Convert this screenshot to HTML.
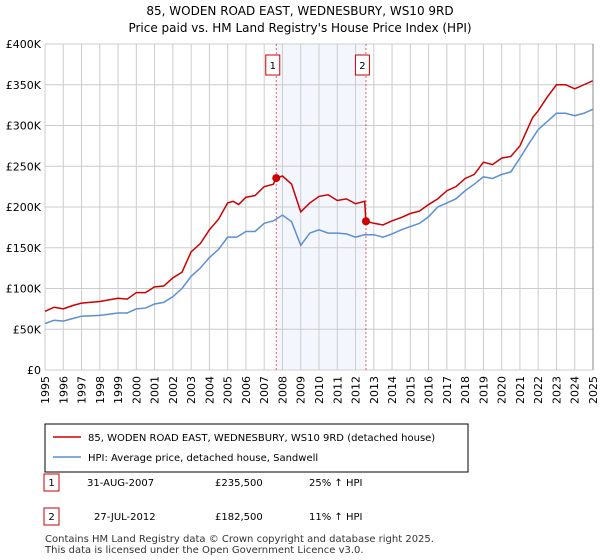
<!DOCTYPE html>
<html><head><meta charset="utf-8"><style>
body{margin:0;width:600px;height:560px;background:#fff;font-family:"Liberation Sans","DejaVu Sans",sans-serif;overflow:hidden}
svg{position:absolute;left:0;top:0}
text{font-family:"DejaVu Sans","Liberation Sans",sans-serif}
</style></head><body>
<svg width="600" height="560">
<text x="300" y="15" font-size="12" text-anchor="middle">85, WODEN ROAD EAST, WEDNESBURY, WS10 9RD</text>
<text x="300" y="32" font-size="12" text-anchor="middle">Price paid vs. HM Land Registry's House Price Index (HPI)</text>
<g id="plot"></g>
<rect x="45" y="424" width="423" height="48" fill="#fff" stroke="#000"/>
<line x1="53" y1="437" x2="81" y2="437" stroke="#cc0000" stroke-width="1.5"/>
<text x="88" y="441" font-size="10">85, WODEN ROAD EAST, WEDNESBURY, WS10 9RD (detached house)</text>
<line x1="53" y1="457" x2="81" y2="457" stroke="#5b8fd4" stroke-width="1.5"/>
<text x="88" y="461" font-size="10">HPI: Average price, detached house, Sandwell</text>
<rect x="44" y="474" width="15" height="17" fill="#fff" stroke="#cc0000"/>
<text x="51.5" y="486" font-size="10" text-anchor="middle">1</text>
<text x="87" y="486" font-size="10">31-AUG-2007</text>
<text x="215" y="486" font-size="10">£235,500</text>
<text x="309" y="486" font-size="10">25% ↑ HPI</text>
<rect x="44" y="508" width="15" height="17" fill="#fff" stroke="#cc0000"/>
<text x="51.5" y="520" font-size="10" text-anchor="middle">2</text>
<text x="94" y="520" font-size="10">27-JUL-2012</text>
<text x="215" y="520" font-size="10">£182,500</text>
<text x="309" y="520" font-size="10">11% ↑ HPI</text>
<text x="45" y="542" font-size="10" fill="#333">Contains HM Land Registry data © Crown copyright and database right 2025.</text>
<text x="45" y="553" font-size="10" fill="#333">This data is licensed under the Open Government Licence v3.0.</text>
</svg>
<script>
const priceT=[1995,1995.5,1996,1996.5,1997,1998,1999,1999.5,2000,2000.5,2001,2001.5,2002,2002.5,2003,2003.5,2004,2004.5,2005,2005.3,2005.6,2006,2006.5,2007,2007.5,2007.66,2008,2008.5,2009,2009.5,2010,2010.5,2011,2011.5,2012,2012.5,2012.57,2013,2013.5,2014,2014.5,2015,2015.5,2016,2016.5,2017,2017.5,2018,2018.5,2019,2019.5,2020,2020.5,2021,2021.3,2021.7,2022,2022.5,2023,2023.5,2024,2024.5,2025];
const priceV=[72,77,75,79,82,84,88,87,95,95,102,103,113,120,145,155,172,185,205,207,203,212,214,225,228,235.5,238,228,194,205,213,215,208,210,204,207,182.5,180,178,183,187,192,195,203,210,220,225,235,240,255,252,260,262,275,290,310,318,335,350,350,345,350,355];
const hpiT=[1995,1995.5,1996,1996.5,1997,1998,1999,1999.5,2000,2000.5,2001,2001.5,2002,2002.5,2003,2003.5,2004,2004.5,2005,2005.5,2006,2006.5,2007,2007.5,2008,2008.5,2009,2009.5,2010,2010.5,2011,2011.5,2012,2012.5,2013,2013.5,2014,2014.5,2015,2015.5,2016,2016.5,2017,2017.5,2018,2018.5,2019,2019.5,2020,2020.5,2021,2021.5,2022,2022.5,2023,2023.5,2024,2024.5,2025];
const hpiV=[57,61,60,63,66,67,70,70,75,76,81,83,90,100,115,125,138,148,163,163,170,170,180,183,190,182,153,168,172,168,168,167,163,166,166,163,167,172,176,180,188,200,205,210,220,228,237,235,240,243,260,278,295,305,315,315,312,315,320];
const salesT=[2007.66,2012.57];
const salesV=[235.5,182.5];
const yTicks=[0,50,100,150,200,250,300,350,400];
const yLabels=["£0","£50K","£100K","£150K","£200K","£250K","£300K","£350K","£400K"];
const years=[1995,1996,1997,1998,1999,2000,2001,2002,2003,2004,2005,2006,2007,2008,2009,2010,2011,2012,2013,2014,2015,2016,2017,2018,2019,2020,2021,2022,2023,2024,2025];
const X0=45,X1=593,Y0=370,Y1=44;
const xs=t=>X0+(t-1995)/30*(X1-X0);
const ys=v=>Y0-v/400*(Y0-Y1);
const NS='http://www.w3.org/2000/svg';
const g=document.getElementById('plot');
function mk(tag,attrs,parent){const e=document.createElementNS(NS,tag);for(const k in attrs)e.setAttribute(k,attrs[k]);(parent||g).appendChild(e);return e;}
const sh=mk('rect',{x:xs(salesT[0]),y:Y1,width:xs(salesT[1])-xs(salesT[0]),height:Y0-Y1,fill:'#eef3fc',opacity:0.7});


years.forEach(y=>{const l=mk('line',{x1:xs(y),x2:xs(y),y1:Y1,y2:Y0,stroke:'#ccc'});


const t=mk('text',{x:0,y:0,'font-size':11,'text-anchor':'end',transform:`translate(${xs(y)+4},${Y0+6}) rotate(-90)`});t.textContent=y;

});
yTicks.forEach((v,i)=>{const l=mk('line',{x1:X0,x2:X1,y1:ys(v),y2:ys(v),stroke:'#ccc'});


const t=mk('text',{x:X0-4,y:ys(v)+4,'font-size':11,'text-anchor':'end'});t.textContent=yLabels[i];

});
salesT.forEach((s,i)=>{const l=mk('line',{x1:xs(s),x2:xs(s),y1:Y1,y2:Y0,stroke:'#e06060','stroke-dasharray':'2,2'});


const r=mk('rect',{x:xs(s)-10.5,y:55,width:14,height:20,fill:'#fff',stroke:'#cc0000'});


const t=mk('text',{x:xs(s)-3.5,y:69,'font-size':10,'text-anchor':'middle'});t.textContent=i+1;});
function line(T,V,c,n){const p=mk('polyline',{points:T.map((t,i)=>xs(t)+','+ys(V[i])).join(' '),fill:'none',stroke:c,'stroke-width':1.5});

}
line(hpiT,hpiV,'#5b8fd4','hpi-line');
line(priceT,priceV,'#cc0000','price-line');
salesT.forEach((s,i)=>{const c=mk('circle',{cx:xs(s),cy:ys(salesV[i]),r:4,fill:'#cc0000'});

});
const ax=mk('line',{x1:X1,x2:X1,y1:Y1,y2:Y0,stroke:'#888'});


</script>
</body></html>
